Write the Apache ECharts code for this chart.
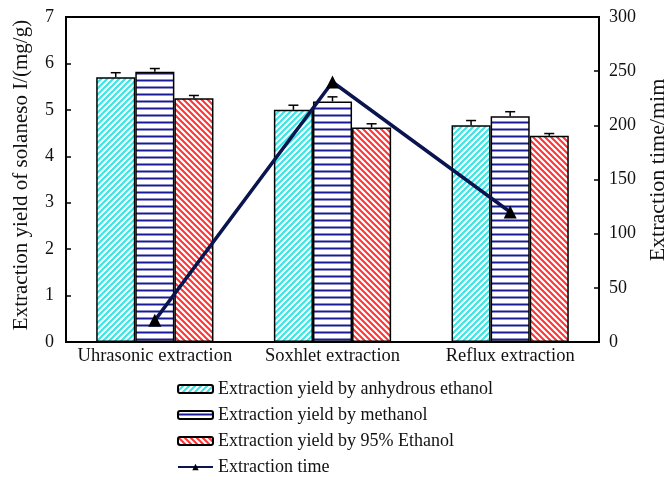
<!DOCTYPE html>
<html>
<head>
<meta charset="utf-8">
<script src="https://cdn.jsdelivr.net/npm/echarts@6/dist/echarts.min.js"></script>
<style>
  html, body { margin: 0; padding: 0; background: #fff; }
  #chart { width: 665px; height: 477px; }
</style>
</head>
<body>
<div id="chart"></div>
<script>
// data
const categories = ['Uhrasonic extraction', 'Soxhlet extraction', 'Reflux extraction'];
const seriesNames = [
  'Extraction yield by anhydrous ethanol',
  'Extraction yield by methanol',
  'Extraction yield by 95% Ethanol',
  'Extraction time'
];
const yieldEthanol = [5.70, 5.00, 4.67];
const yieldMethanol = [5.82, 5.18, 4.86];
const yield95 = [5.25, 4.62, 4.44];
const errEthanol = [0.10, 0.10, 0.10];
const errMethanol = [0.07, 0.10, 0.10];
const err95 = [0.06, 0.08, 0.05];
const extractionTime = [20, 240, 120];

const FONT = '"Liberation Serif", "DejaVu Serif", serif';

// stripe pattern fills
function stripes(color, kind) {
  const c = document.createElement('canvas');
  const s = kind === 'h' ? 7 : 6;
  c.width = s; c.height = s;
  const ctx = c.getContext('2d');
  ctx.fillStyle = '#fff';
  ctx.fillRect(0, 0, s, s);
  ctx.strokeStyle = color;
  ctx.lineWidth = 2;
  ctx.beginPath();
  if (kind === 'h') {
    ctx.moveTo(0, 3.5); ctx.lineTo(s, 3.5);
  } else if (kind === '/') {
    ctx.moveTo(-1, s + 1); ctx.lineTo(s + 1, -1);
    ctx.moveTo(-1, 1); ctx.lineTo(1, -1);
    ctx.moveTo(s - 1, s + 1); ctx.lineTo(s + 1, s - 1);
  } else {
    ctx.moveTo(-1, -1); ctx.lineTo(s + 1, s + 1);
    ctx.moveTo(s - 1, -1); ctx.lineTo(s + 1, 1);
    ctx.moveTo(-1, s - 1); ctx.lineTo(1, s + 1);
  }
  ctx.stroke();
  return { image: c, repeat: 'repeat' };
}

const fills = [stripes('#33e6e6', '/'), stripes('#1a1a99', 'h'), stripes('#ff3333', '\\')];
const barValues = [yieldEthanol, yieldMethanol, yield95];
const barErrors = [errEthanol, errMethanol, err95];

const GAP = 0.34;

const chart = echarts.init(document.getElementById('chart'));

const barSeries = barValues.map((vals, i) => ({
  name: seriesNames[i],
  type: 'bar',
  yAxisIndex: 0,
  barGap: 0,
  barCategoryGap: (GAP * 100) + '%',
  itemStyle: { color: fills[i], borderColor: '#000', borderWidth: 1.5 },
  data: vals
}));

const errData = [];
barValues.forEach((vals, s) => {
  vals.forEach((v, c) => errData.push([c, v, barErrors[s][c], s]));
});

// error bars: only the upper half, with a cap
const errSeries = {
  type: 'custom',
  yAxisIndex: 0,
  z: 5,
  silent: true,
  renderItem(params, api) {
    const c = api.value(0), v = api.value(1), e = api.value(2), s = api.value(3);
    const band = api.size([1, 0])[0];
    const bw = band * (1 - GAP) / 3;
    const center = api.coord([c, 0])[0] + (s - 1) * bw;
    const top = api.coord([c, v + e])[1];
    const base = api.coord([c, v])[1];
    const style = { stroke: '#000', lineWidth: 1.5 };
    return {
      type: 'group',
      children: [
        { type: 'line', shape: { x1: center, y1: base, x2: center, y2: top }, style },
        { type: 'line', shape: { x1: center - 5, y1: top, x2: center + 5, y2: top }, style }
      ]
    };
  },
  data: errData
};

const lineSeries = {
  name: seriesNames[3],
  type: 'line',
  yAxisIndex: 1,
  z: 10,
  symbol: 'triangle',
  symbolSize: 13,
  lineStyle: { color: '#0a1550', width: 3.5 },
  itemStyle: { color: '#000' },
  data: extractionTime
};

const option = {
  animation: false,
  textStyle: { fontFamily: FONT },
  grid: {
    left: 66, right: 66, top: 17, bottom: 135,
    outerBoundsMode: 'none',
    show: true, borderColor: '#000', borderWidth: 2
  },
  legend: {
    orient: 'vertical',
    left: 177, top: 380, height: 120, padding: 0,
    itemWidth: 35, itemHeight: 8, itemGap: 8,
    data: seriesNames,
    textStyle: { fontFamily: FONT, fontSize: 18, color: '#111' }
  },
  xAxis: {
    type: 'category',
    data: categories,
    axisLine: { lineStyle: { color: '#000', width: 2 } },
    axisTick: { inside: true, length: 5, lineStyle: { color: '#000', width: 1.5 } },
    axisLabel: { fontFamily: FONT, fontSize: 18.5, color: '#111', margin: 5, interval: 0 }
  },
  yAxis: [
    {
      type: 'value', min: 0, max: 7, interval: 1,
      name: 'Extraction yield of solaneso I/(mg/g)',
      nameLocation: 'middle', nameRotate: 90, nameGap: 34,
      nameTextStyle: { fontFamily: FONT, fontSize: 21, color: '#111', padding: [0, 0, 0, 9] },
      axisLine: { show: true, lineStyle: { color: '#000', width: 2 } },
      axisTick: { show: true, inside: true, length: 5, lineStyle: { color: '#000', width: 1.5 } },
      axisLabel: { fontFamily: FONT, fontSize: 18, color: '#111', margin: 12 },
      splitLine: { show: false }
    },
    {
      type: 'value', min: 0, max: 300, interval: 50, position: 'right',
      name: 'Extraction time/mim',
      nameLocation: 'middle', nameRotate: 90, nameGap: 48,
      nameTextStyle: { fontFamily: FONT, fontSize: 22, color: '#111', padding: [0, 0, 0, 19] },
      axisLine: { show: true, lineStyle: { color: '#000', width: 2 } },
      axisTick: { show: true, inside: true, length: 5, lineStyle: { color: '#000', width: 1.5 } },
      axisLabel: { fontFamily: FONT, fontSize: 18, color: '#111', margin: 10 },
      splitLine: { show: false }
    }
  ],
  series: [...barSeries, errSeries, lineSeries]
};

chart.setOption(option);
window.addEventListener('resize', chart.resize);
</script>
</body>
</html>
